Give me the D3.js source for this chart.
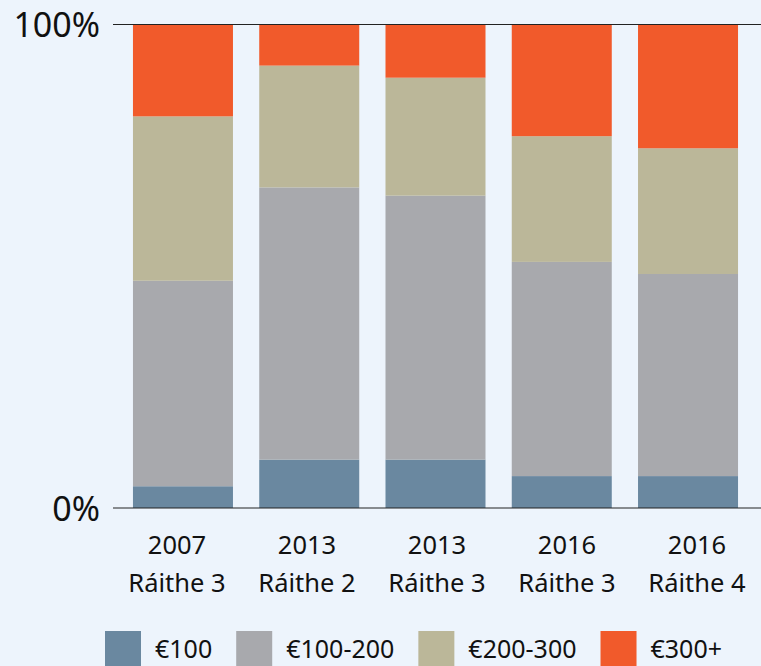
<!DOCTYPE html>
<html>
<head>
<meta charset="utf-8">
<script src="https://cdn.jsdelivr.net/npm/d3@7"></script>
<style>
  html, body { margin: 0; padding: 0; background: #edf4fc; }
  svg { display: block; font-family: "Noto Sans", "Open Sans", sans-serif; }
</style>
</head>
<body>
<svg id="chart" width="761" height="666"></svg>
<script>
// categories, two line labels each
const years = ["2007", "2013", "2013", "2016", "2016"];
const quarters = ["Ráithe 3", "Ráithe 2", "Ráithe 3", "Ráithe 3", "Ráithe 4"];

// series (percent of each bar)
const seriesNames = ["€100", "€100-200", "€200-300", "€300+"];
const rent100 = [4.5, 10, 10, 6.6, 6.6];
const rent100to200 = [42.5, 56.3, 54.6, 44.3, 41.8];
const rent200to300 = [34, 25.2, 24.4, 26, 26];
const rent300plus = [19, 8.5, 11, 23.1, 25.6];
const colors = ["#6a88a0", "#a8a9ad", "#bbb799", "#f15a2b"];

const yTicks = [0, 100];

let svg = d3.select("#chart");

let margin = { top: 24.5, left: 113, right: 0, bottom: 158 },
    width = 761 - margin.left - margin.right,
    height = 666 - margin.top - margin.bottom;

// build rows for stacking
let rows = years.map((y, i) => ({
    key: i,
    "€100": rent100[i],
    "€100-200": rent100to200[i],
    "€200-300": rent200to300[i],
    "€300+": rent300plus[i]
}));

let stacked = d3.stack().keys(seriesNames)(rows);

let x = d3.scaleBand()
    .domain(years.map((d, i) => i))
    .range([0, width])
    .paddingInner(0.208)
    .paddingOuter(0.17)
    .align(0.465);

// the labels sit on a slightly wider spacing than the bars
let xLabel = d3.scalePoint()
    .domain(years.map((d, i) => i))
    .range([64, 584]);

let y = d3.scaleLinear()
    .domain([0, 100])
    .range([height, 0]);

let g = svg.append("g")
    .attr("transform", "translate(" + margin.left + "," + margin.top + ")");

// bars
g.selectAll("g.series")
    .data(stacked)
    .enter()
    .append("g")
    .attr("class", "series")
    .attr("fill", (d, i) => colors[i])
    .selectAll("rect")
    .data(d => d)
    .enter()
    .append("rect")
    .attr("x", d => x(d.data.key))
    .attr("width", x.bandwidth())
    .attr("y", d => y(d[1]))
    .attr("height", d => y(d[0]) - y(d[1]));

// gridlines at 0 and 100
g.selectAll("line.grid")
    .data(yTicks)
    .enter()
    .append("line")
    .attr("class", "grid")
    .attr("x1", 0)
    .attr("x2", width)
    .attr("y1", d => y(d))
    .attr("y2", d => y(d))
    .attr("stroke", "#222")
    .attr("stroke-width", 1.2);

// y tick labels
g.selectAll("text.ytick")
    .data(yTicks)
    .enter()
    .append("text")
    .attr("class", "ytick")
    .attr("x", -13)
    .attr("y", d => y(d) + 12.5)
    .attr("text-anchor", "end")
    .attr("font-size", 34)
    .attr("fill", "#111")
    .text(d => d + "%");

// x labels
let xl = g.selectAll("text.xlabel")
    .data(years)
    .enter()
    .append("text")
    .attr("class", "xlabel")
    .attr("text-anchor", "middle")
    .attr("font-size", 25.5)
    .attr("fill", "#111")
    .attr("transform", (d, i) => "translate(" + xLabel(i) + "," + (height + 46) + ")");

xl.append("tspan").attr("x", 0).attr("y", 0).text(d => d);
xl.append("tspan").attr("x", 0).attr("y", 38).text((d, i) => quarters[i]);

// legend
let legend = svg.append("g").attr("transform", "translate(105,631)");
let lx = 0;
seriesNames.forEach((name, i) => {
    let item = legend.append("g").attr("transform", "translate(" + lx + ",0)");
    item.append("rect")
        .attr("width", 36)
        .attr("height", 40)
        .attr("fill", colors[i]);
    let t = item.append("text")
        .attr("x", 50)
        .attr("y", 27)
        .attr("font-size", 25)
        .attr("fill", "#111")
        .text(name);
    lx += 50 + t.node().getComputedTextLength() + 24;
});
</script>
</body>
</html>
